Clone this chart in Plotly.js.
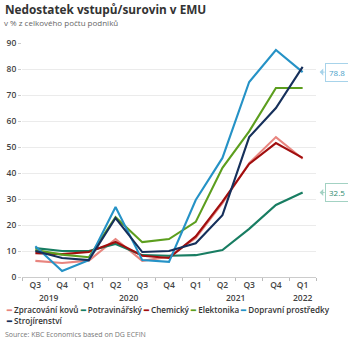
<!DOCTYPE html>
<html><head><meta charset="utf-8">
<script src="https://cdn.plot.ly/plotly-3.0.1.min.js"></script>
<style>html,body{margin:0;padding:0;background:#fff}#chart{width:348px;height:348px}</style>
</head><body><div id="chart"></div>
<script>
// ---- data ----
const years    = ["2019","2019","2020","2020","2020","2020","2021","2021","2021","2021","2022"];
const quarters = ["Q3","Q4","Q1","Q2","Q3","Q4","Q1","Q2","Q3","Q4","Q1"];
const seriesNames = ["Zpracování kovů","Potravinářský","Chemický","Elektonika","Dopravní prostředky","Strojírenství"];
const zpracovaniKovu = [6.2, 5.4, 6.3, 14.6, 6.2, 7.8, 15.0, 28.4, 43.8, 53.8, 45.5];
const potravinarsky  = [11.1, 10.0, 10.0, 12.7, 8.4, 8.2, 8.4, 10.4, 18.5, 27.7, 32.5];
const chemicky       = [9.2, 8.8, 9.6, 13.5, 8.2, 7.3, 15.6, 29.0, 43.5, 51.5, 45.8];
const elektonika     = [10.4, 8.6, 7.6, 23.0, 13.4, 14.6, 21.2, 42.0, 56.0, 72.7, 72.7];
const dopravni       = [11.8, 2.3, 6.5, 26.9, 6.5, 5.8, 29.6, 45.8, 75.0, 87.3, 78.8];
const strojirenstvi  = [10.0, 7.3, 6.5, 22.7, 9.6, 10.0, 13.0, 23.8, 53.8, 65.0, 80.8];
const yTicks = [0,10,20,30,40,50,60,70,80,90];

const allValues = [zpracovaniKovu, potravinarsky, chemicky, elektonika, dopravni, strojirenstvi];
const colors = ["#e8857f","#187d62","#a10e0e","#5c9e1e","#2592c6","#16305b"];

const FONT = "Open Sans, Noto Sans, sans-serif";
const L = 22, R = 32, T = 43, B = 71, W = 348, H = 348;
const pw = W - L - R, ph = H - T - B;
const xp = px => (px - L) / pw;
const yp = py => (H - B - py) / ph;

const xIdx = quarters.map((q, i) => i);

const traces = allValues.map((vals, i) => ({
  type: "scatter", mode: "lines",
  x: xIdx, y: vals, name: seriesNames[i],
  line: {color: colors[i], width: 2.1},
  showlegend: false, hoverinfo: "skip"
}));

// custom legend text built from names/colours
function entry(i){ return '<span style="color:' + colors[i] + '">━</span> ' + seriesNames[i]; }
const legendText = [0,1,2,3,4].map(entry).join(" ") + "<br>" + entry(5);

const last = quarters.length - 1;
const annotations = [
  {xref:"paper", yref:"paper", x:xp(2), y:yp(22), xanchor:"left", yanchor:"middle", showarrow:false,
   text:"v % z celkového počtu podniků", font:{family:FONT, size:8, color:"#666"}},
  {xref:"paper", yref:"paper", x:xp(4), y:yp(302), xanchor:"left", yanchor:"top", showarrow:false, align:"left",
   text:legendText, font:{family:FONT, size:8.1, color:"#333", weight:600}},
  {xref:"paper", yref:"paper", x:xp(3), y:yp(334), xanchor:"left", yanchor:"middle", showarrow:false,
   text:"Source: KBC Economics based on DG ECFIN", font:{family:FONT, size:7, color:"#777"}}
];

// value call-outs beside the last point
[[dopravni, "#4a9fc9", "#a7d3ea"], [potravinarsky, "#2e8a6f", "#a3d2c3"]].forEach(([arr, tc, bc]) => {
  annotations.push({x: last, y: arr[last], xref: "x", yref: "y", xshift: 17,
    showarrow: true, ax: 5, ay: 0, arrowhead: 1, arrowsize: 1.2, arrowwidth: 1, arrowcolor: bc,
    xanchor: "left", yanchor: "middle",
    text: arr[last].toFixed(1), font: {family: FONT, size: 8, color: tc},
    bordercolor: bc, borderwidth: 1, borderpad: 3, bgcolor: "#fff"});
});

// year group labels centred under their quarters
const uniqYears = [...new Set(years)];
uniqYears.forEach(yr => {
  const idx = xIdx.filter(i => years[i] === yr);
  const mid = (idx[0] + idx[idx.length - 1]) / 2;
  annotations.push({x: mid, xref: "x", y: yp(297), yref: "paper", yanchor: "middle", showarrow: false,
    text: yr, font: {family: FONT, size: 8.5, color: "#444", weight: 600}});
});

const layout = {
  width: W, height: H,
  margin: {l: L, r: R, t: T, b: B, pad: 0},
  paper_bgcolor: "#fff", plot_bgcolor: "#fff",
  font: {family: FONT, color: "#444"},
  title: {text: "Nedostatek vstupů/surovin v EMU", x: 5/W, xanchor: "left", xref: "container",
          y: 1 - 10/H, yanchor: "middle", yref: "container",
          font: {family: FONT, size: 11.8, color: "#333", weight: 700}},
  xaxis: {type: "linear", range: [-0.5, quarters.length - 0.5], showgrid: false, zeroline: false,
          showline: true, linecolor: "#ccc", linewidth: 1,
          tickvals: xIdx, ticktext: quarters, ticks: "",
          minor: {tick0: 0.5, dtick: 1, ticks: "outside", ticklen: 3, tickcolor: "#bbb", showgrid: false},
          tickfont: {family: FONT, size: 8.5, color: "#444", weight: 600}},
  yaxis: {range: [0, 90], tickvals: yTicks, showgrid: true, gridcolor: "#ebebeb", gridwidth: 1,
          zeroline: false, showline: false, ticks: "outside", ticklen: 3, tickcolor: "#ccc",
          tickfont: {family: FONT, size: 8.5, color: "#444", weight: 600}},
  annotations: annotations,
  showlegend: false
};

Plotly.newPlot("chart", traces, layout, {displayModeBar: false, staticPlot: true});
</script></body></html>
